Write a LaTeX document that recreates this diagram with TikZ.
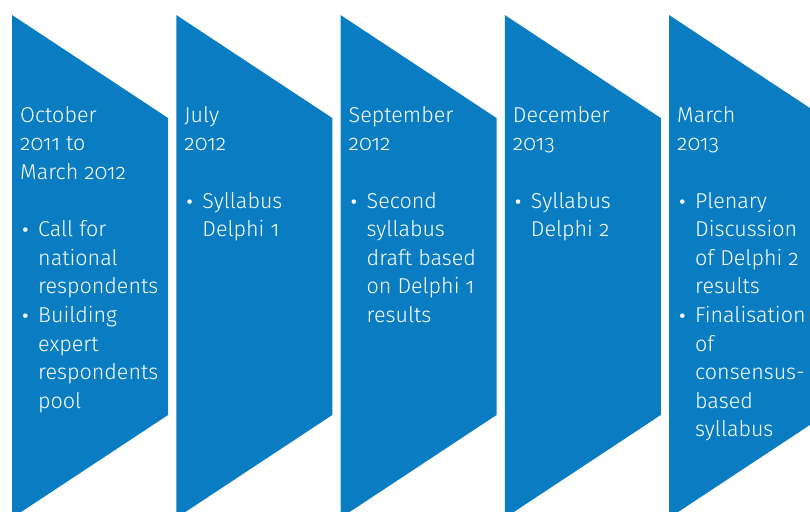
\documentclass[tikz,border=0pt]{standalone}
\usepackage{fontspec}
\setmainfont{Fira Sans Light}[Numbers=OldStyle]
\usepackage{tikz}
\usetikzlibrary{positioning}
\definecolor{stageblue}{RGB}{10,125,194}
\tikzset{
  stage/.style={fill=stageblue, draw=none},
  stagetext/.style={anchor=north west, align=left, text=white, inner sep=0pt,
    font=\fontsize{21.5}{28.6}\selectfont}
}
% bullet and hanging indent for the item lines
\newcommand{\bul}{\makebox[18pt][l]{\hspace*{1pt}\raisebox{-4pt}{\fontsize{30}{30}\selectfont\textbullet}}}
\newcommand{\ind}{\hspace*{18pt}}

\begin{document}
\begin{tikzpicture}[x=1pt, y=-1pt]
    \useasboundingbox (0,0) rectangle (810,511);
    \clip (0,0) rectangle (810,511);
    % five notched stages
    \foreach \i in {0,...,4} {
      \pgfmathsetmacro{\L}{12+164.25*\i}
      \fill[stage] (\L,15) -- (\L+156,118) -- (\L+156,415) -- (\L,518) -- cycle;
    }
    % first line starts with a strut, so its top sits at 102
    \node[stagetext] (oct) at (20,102)
      {\strut October\\2011 to\\March 2012\\[28.6pt]
       \bul Call for\\\ind national\\\ind respondents\\
       \bul Building\\\ind expert\\\ind respondents\\\ind pool};
    \node[stagetext] (jul) at (184.25,102)
      {\strut July\\2012\\[28.6pt]
       \bul Syllabus\\\ind Delphi 1};
    \node[stagetext] (sep) at (348.5,102)
      {\strut September\\2012\\[28.6pt]
       \bul Second\\\ind syllabus\\\ind draft based\\\ind on Delphi 1\\\ind results};
    \node[stagetext] (dec) at (512.75,102)
      {\strut December\\2013\\[28.6pt]
       \bul Syllabus\\\ind Delphi 2};
    \node[stagetext] (mar) at (677,102)
      {\strut March\\2013\\[28.6pt]
       \bul Plenary\\\ind Discussion\\\ind of Delphi 2\\\ind results\\
       \bul Finalisation\\\ind of\\\ind consensus-\\\ind based\\\ind syllabus};
\end{tikzpicture}
\end{document}
